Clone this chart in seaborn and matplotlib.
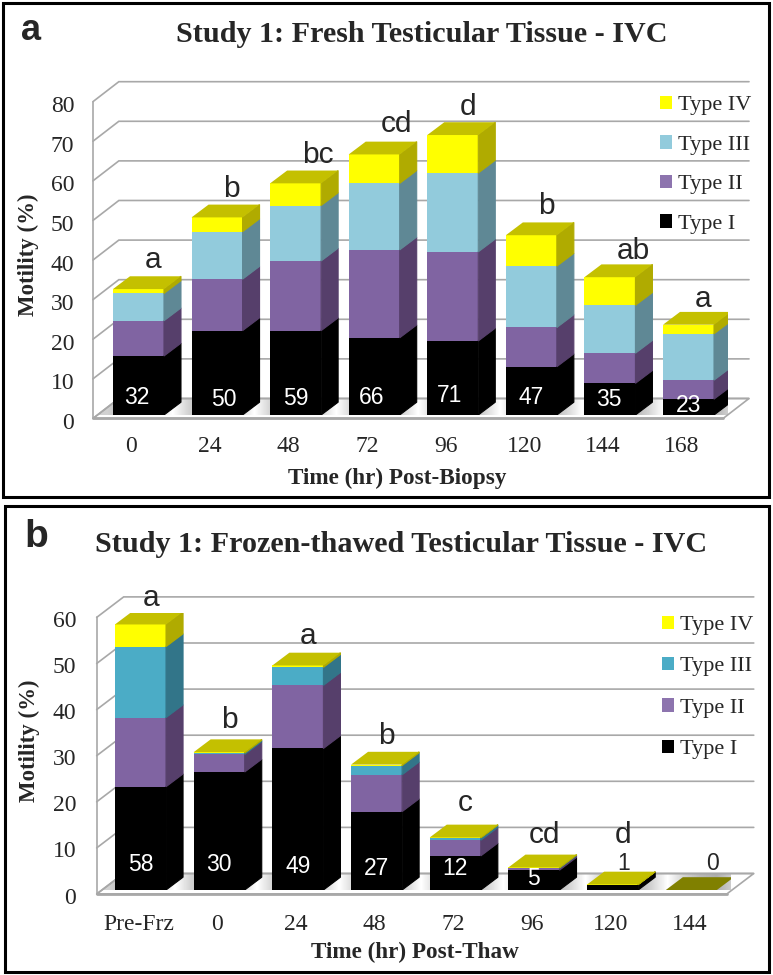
import numpy as np
import matplotlib
matplotlib.use('Agg')
import matplotlib.pyplot as plt
import seaborn as sns
from matplotlib.patches import Patch, Rectangle
from matplotlib.transforms import ScaledTranslation

FIG_W, FIG_H = 773, 975

type_names = ['Type I', 'Type II', 'Type III', 'Type IV']

# panel a
times_a = ['0', '24', '48', '72', '96', '120', '144', '168']
type1_a = [14.9, 21.3, 21.3, 19.5, 18.7, 12.2, 8.0, 4.0]
type2_a = [8.9, 13.0, 17.6, 22.2, 22.5, 9.9, 7.6, 4.8]
type3_a = [6.9, 12.0, 14.0, 16.8, 19.9, 15.5, 12.1, 11.7]
type4_a = [1.1, 3.6, 5.6, 7.3, 9.6, 7.8, 7.1, 2.3]
counts_a = ['32', '50', '59', '66', '71', '47', '35', '23']
letters_a = ['a', 'b', 'bc', 'cd', 'd', 'b', 'ab', 'a']
yticks_a = [0, 10, 20, 30, 40, 50, 60, 70, 80]

# panel b
times_b = ['Pre-Frz', '0', '24', '48', '72', '96', '120', '144']
type1_b = [22.4, 25.6, 30.7, 17.0, 7.4, 4.3, 1.15, 0]
type2_b = [15.0, 3.8, 13.7, 8.0, 3.4, 0.4, 0.0, 0]
type3_b = [15.4, 0.3, 3.9, 2.0, 0.5, 0.1, 0.0, 0]
type4_b = [4.8, 0.2, 0.4, 0.2, 0.1, 0.1, 0.05, 0]
counts_b = ['58', '30', '49', '27', '12', '5', '', '']
letters_b = ['a', 'b', 'a', 'b', 'c', 'cd', 'd', '']
yticks_b = [0, 10, 20, 30, 40, 50, 60]


def px_axes(fig, left, right, top, bottom):
    return fig.add_axes([left / FIG_W, 1 - bottom / FIG_H, (right - left) / FIG_W, (bottom - top) / FIG_H])


def draw_walls(ax, yticks, front_l, front_r, floor_y, back_dx, back_dy):
    grid = '#a8a8a8'
    # striped floor, lightest in the gaps between bars
    stripe = np.array([0.82, 0.72, 0.68, 0.82, 1.0])
    shade = np.tile(stripe, 8).reshape(1, -1)
    xl, yl = ax.get_xlim(), ax.get_ylim()
    img = ax.imshow(shade, cmap='gray', vmin=0, vmax=1, aspect='auto', zorder=0.4,
                    extent=(-0.5, 7.5 + back_dx, floor_y, floor_y + back_dy), interpolation='bilinear')
    poly = ax.fill([front_l, front_r, front_r + back_dx, front_l + back_dx],
                   [floor_y, floor_y, floor_y + back_dy, floor_y + back_dy],
                   facecolor='none', edgecolor=grid, lw=1.2, zorder=0.45, clip_on=False)[0]
    img.set_clip_path(poly)
    ax.set_xlim(xl)
    ax.set_ylim(yl)
    for t in yticks:
        y = t + floor_y
        ax.plot([front_l, front_l + back_dx, front_r + back_dx], [y, y + back_dy, y + back_dy],
                color=grid, lw=1.2, zorder=0.5, clip_on=False, solid_joinstyle='miter')
    ax.plot([front_l, front_l], [floor_y, yticks[-1] + floor_y], color=grid, lw=1.2, zorder=0.5, clip_on=False)
    ax.plot([front_l, front_r], [floor_y, floor_y], color=grid, lw=2, zorder=0.6, clip_on=False)


def draw_bars(ax, times, series, colors, side_colors, top_color, empty_color):
    width = 51 / 78.6
    dx, dy = 17 / 78.6, 12.8 / (ax.get_position().height * FIG_H / ax.get_ylim()[1])
    cum = np.cumsum(np.array(series), axis=0)
    for i in range(3, -1, -1):
        sns.barplot(x=times, y=cum[i], order=times, color=colors[i], saturation=1, width=width,
                    errorbar=None, linewidth=0, ax=ax)
    for pos in range(len(times)):
        right = pos + width / 2
        lo = 0
        for i in range(4):
            hi = cum[i][pos]
            if hi > lo:
                ax.fill([right, right + dx, right + dx, right], [lo, lo + dy, hi + dy, hi],
                        facecolor=side_colors[i], edgecolor=side_colors[i], lw=0.8, zorder=2)
            lo = hi
        total = cum[3][pos]
        color = top_color if total > 0 else empty_color
        ax.fill([right - width, right, right + dx, right - width + dx],
                [total, total, total + dy, total + dy], color=color, lw=0, zorder=2.1)
    return cum[3]


def finish_axes(ax, times, yticks, xlabel_dx, ytick_dy, xpad):
    ax.set_yticks(yticks)
    ax.set_xticks(range(len(times)))
    ax.set_xticklabels(times)
    ax.tick_params(axis='both', length=0, labelsize=17)
    ax.tick_params(axis='y', pad=18)
    ax.tick_params(axis='x', pad=xpad)
    fig = ax.figure
    for lab in ax.get_xticklabels():
        lab.set_transform(lab.get_transform() + ScaledTranslation(xlabel_dx / 100, 0, fig.dpi_scale_trans))
    for lab in ax.get_yticklabels():
        lab.set_transform(lab.get_transform() + ScaledTranslation(0, ytick_dy / 100, fig.dpi_scale_trans))
    sns.despine(ax=ax, left=True, bottom=True)
    ax.patch.set_alpha(0)
    ax.set_xlabel('')
    ax.set_ylabel('')


def add_legend(ax, colors, x, y, spacing):
    handles = [Patch(color=c, label=n, lw=0) for c, n in zip(colors[::-1], type_names[::-1])]
    ax.legend(handles=handles, loc='upper left', bbox_to_anchor=(x / FIG_W, 1 - y / FIG_H),
              bbox_transform=ax.figure.transFigure, frameon=False, fontsize=16, borderpad=0,
              borderaxespad=0, handlelength=0.54, handleheight=0.54, handletextpad=0.27, labelspacing=spacing)


sns.set_style('white')
plt.rcParams['font.family'] = ['Liberation Serif', 'DejaVu Serif']

fig = plt.figure(figsize=(FIG_W / 100, FIG_H / 100), dpi=100)
fig.add_artist(Rectangle((3 / FIG_W, 1 - 497 / FIG_H), 766 / FIG_W, 494 / FIG_H, transform=fig.transFigure,
                         facecolor='none', edgecolor='black', lw=2.2))
fig.add_artist(Rectangle((5 / FIG_W, 1 - 972 / FIG_H), 764 / FIG_W, 466 / FIG_H, transform=fig.transFigure,
                         facecolor='none', edgecolor='black', lw=2.2))

sans = 'Liberation Sans'

# --- panel a ---
ax = px_axes(fig, 99.2, 727.8, 98.2, 415)
ax.set_xlim(-0.5, 7.5)
ax.set_ylim(0, 80)
colors_a = ['#000000', '#8064a2', '#92cbdc', '#ffff00']
sides_a = ['#000000', '#563f6b', '#5f8895', '#b0ab00']
totals = draw_bars(ax, times_a, [type1_a, type2_a, type3_a, type4_a], colors_a, sides_a, '#c4c000', '#808000')
ax.set_xlim(-0.5, 7.5)
ax.set_ylim(0, 80)
draw_walls(ax, yticks_a, -0.58, 7.44, -0.88, 0.33, 5.05)
finish_axes(ax, times_a, yticks_a, -7, -6, 15)
gaps_a = [7.3, 7.1, 7.1, 7.6, 7.1, 7.3, 6.5, 6.5]
count_y_a = [4.3, 4.0, 4.2, 4.3, 4.8, 4.5, 4.0, 2.5]
count_dx = [-0.02, 0.09, 0.0, -0.03, -0.04, 0.0, -0.02, 0.0]
for i in range(8):
    ax.text(i + 6.5 / 78.6, totals[i] + gaps_a[i], letters_a[i], family=sans, fontsize=21.5, ha='left',
            va='center', zorder=5)
    ax.text(i + count_dx[i], count_y_a[i], counts_a[i], family=sans, fontsize=16.5, color='white', ha='center',
            va='center', zorder=5)
add_legend(ax, ['#000000', '#8d74ae', '#92cbdc', '#ffff00'], 660, 96, 0.9)
fig.text(422 / FIG_W, 1 - 35 / FIG_H, 'Study 1: Fresh Testicular Tissue - IVC', fontsize=21.7, fontweight='bold',
         ha='center', va='center')
fig.text(397 / FIG_W, 1 - 478 / FIG_H, 'Time (hr) Post-Biopsy', fontsize=16.7, fontweight='bold', ha='center',
         va='center')
fig.text(28 / FIG_W, 1 - 255 / FIG_H, 'Motility (%)', fontsize=16.5, fontweight='bold', rotation=90, ha='center',
         va='center')
fig.text(31 / FIG_W, 1 - 30 / FIG_H, 'a', family=sans, fontsize=26, fontweight='bold', ha='center', va='center')

# --- panel b ---
ax = px_axes(fig, 101.15, 730.7, 613.4, 890)
ax.set_xlim(-0.5, 7.5)
ax.set_ylim(0, 60)
colors_b = ['#000000', '#8064a2', '#4bacc6', '#ffff00']
sides_b = ['#000000', '#563f6b', '#327589', '#b0ab00']
totals = draw_bars(ax, times_b, [type1_b, type2_b, type3_b, type4_b], colors_b, sides_b, '#c4c000', '#808000')
ax.set_xlim(-0.5, 7.5)
ax.set_ylim(0, 60)
draw_walls(ax, yticks_b, -0.557, 7.45, -0.87, 0.343, 4.45)
finish_axes(ax, times_b, yticks_b, -2, -5.5, 17)
letter_y_b = [63.3, 36.8, 55.0, 33.4, 18.8, 12.0, 12.0, 0]
count_y_b = [5.6, 5.6, 5.2, 4.7, 4.6, 2.6]
for i in range(8):
    if letters_b[i]:
        ax.text(i + 0.13, letter_y_b[i], letters_b[i], family=sans, fontsize=21.5, ha='center', va='center',
                zorder=5)
    if counts_b[i]:
        ax.text(i, count_y_b[i], counts_b[i], family=sans, fontsize=16.5, color='white', ha='center', va='center',
                zorder=5)
ax.text(6.14, 5.8, '1', family=sans, fontsize=16.5, ha='center', va='center', zorder=5)
ax.text(7.27, 5.8, '0', family=sans, fontsize=16.5, ha='center', va='center', zorder=5)
add_legend(ax, ['#000000', '#8d74ae', '#4bacc6', '#ffff00'], 661.5, 615.5, 0.99)
fig.text(401 / FIG_W, 1 - 545 / FIG_H, 'Study 1: Frozen-thawed Testicular Tissue - IVC', fontsize=21.7,
         fontweight='bold', ha='center', va='center')
fig.text(415 / FIG_W, 1 - 952 / FIG_H, 'Time (hr) Post-Thaw', fontsize=16.7, fontweight='bold', ha='center',
         va='center')
fig.text(29 / FIG_W, 1 - 741 / FIG_H, 'Motility (%)', fontsize=16.5, fontweight='bold', rotation=90, ha='center',
         va='center')
fig.text(36 / FIG_W, 1 - 537 / FIG_H, 'b', family=sans, fontsize=28, fontweight='bold', ha='center', va='center')

fig.savefig('out.png', dpi=100)
